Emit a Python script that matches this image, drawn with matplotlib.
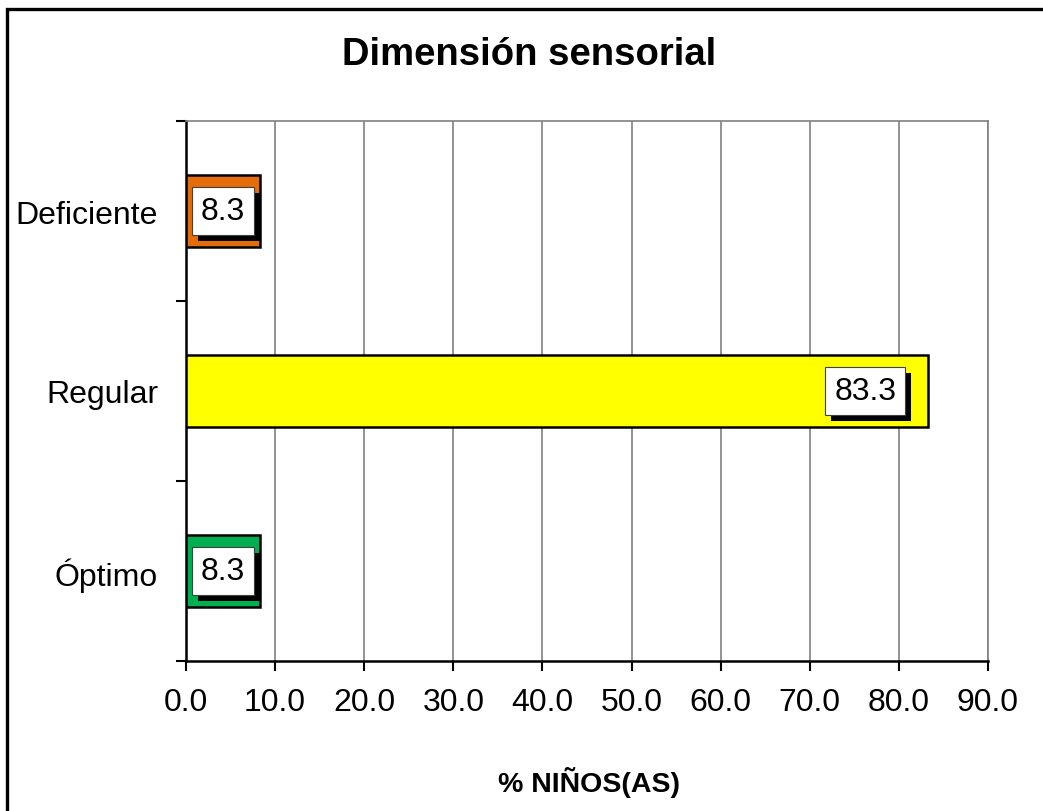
import matplotlib
matplotlib.use('Agg')
import matplotlib.pyplot as plt
import matplotlib.patheffects as pe
from matplotlib.patches import Rectangle
import numpy as np

plt.rcParams['font.family'] = ['Liberation Sans', 'DejaVu Sans']

# data
categories = ['Óptimo', 'Regular', 'Deficiente']
values = [8.3, 83.3, 8.3]
bar_colors = ['#00B050', '#FFFF00', '#E46C0A']
x_ticks = [0, 10, 20, 30, 40, 50, 60, 70, 80, 90]

W, H = 1043, 812
fig = plt.figure(figsize=(W / 100, H / 100), dpi=100)
ax = fig.add_axes([186 / W, 1 - 662 / H, (988 - 186) / W, (662 - 122) / H])

# outer chart border (runs off the right and bottom edges)
fig.patches.append(Rectangle((7 / W, -0.1), 1.2, 1 - 10 / H + 0.1,
                             transform=fig.transFigure, fill=False,
                             edgecolor='black', linewidth=2.4, zorder=0))

y = np.arange(len(categories))
ax.barh(y, values, height=0.4, color=bar_colors, edgecolor='black',
        linewidth=1.8, zorder=3)

ax.set_xlim(0, 90)
ax.set_ylim(-0.5, len(categories) - 0.5)
ax.set_xticks(x_ticks)
ax.set_xticklabels([f'{v:.1f}' for v in x_ticks])
ax.set_yticks(y)
ax.set_yticklabels(categories)
ax.set_yticks(np.arange(-0.5, len(categories)), minor=True)

ax.tick_params(axis='x', direction='out', length=7, width=1.5, pad=12,
               labelsize=23)
ax.tick_params(axis='y', which='major', length=0, pad=20, labelsize=23)
ax.tick_params(axis='y', which='minor', direction='out', length=7, width=1.5)

ax.grid(axis='x', color='#808080', linewidth=1.2, zorder=0)
ax.set_axisbelow(True)
for s in ['top', 'right']:
    ax.spines[s].set_color('#808080')
    ax.spines[s].set_linewidth(1.2)
for s in ['left', 'bottom']:
    ax.spines[s].set_color('black')
    ax.spines[s].set_linewidth(1.8)

# value labels with shadowed box
for yi, v in zip(y, values):
    if v < 20:
        xy, off, ha = (0, yi), (15, 0), 'left'
    else:
        xy, off, ha = (v, yi), (-32, 0), 'right'
    t = ax.annotate(f'{v:.1f}', xy=xy, xytext=(off[0] * 0.72, off[1] * 0.72),
                    textcoords='offset points', ha=ha, va='center',
                    fontsize=23, zorder=5,
                    bbox=dict(boxstyle='square,pad=0.28', fc='white',
                              ec='#404040', lw=0.8))
    t.get_bbox_patch().set_path_effects([
        pe.SimplePatchShadow(offset=(4.3, -4.3), shadow_rgbFace='black',
                             alpha=1),
        pe.Normal()])

fig.text(529 / W, 1 - 55 / H, 'Dimensión sensorial', ha='center',
         va='center', fontsize=27.5, fontweight='bold')
fig.text(589 / W, 1 - 783 / H, '% NIÑOS(AS)', ha='center', va='center',
         fontsize=20.5, fontweight='bold')

fig.savefig('out.png', dpi=100)
